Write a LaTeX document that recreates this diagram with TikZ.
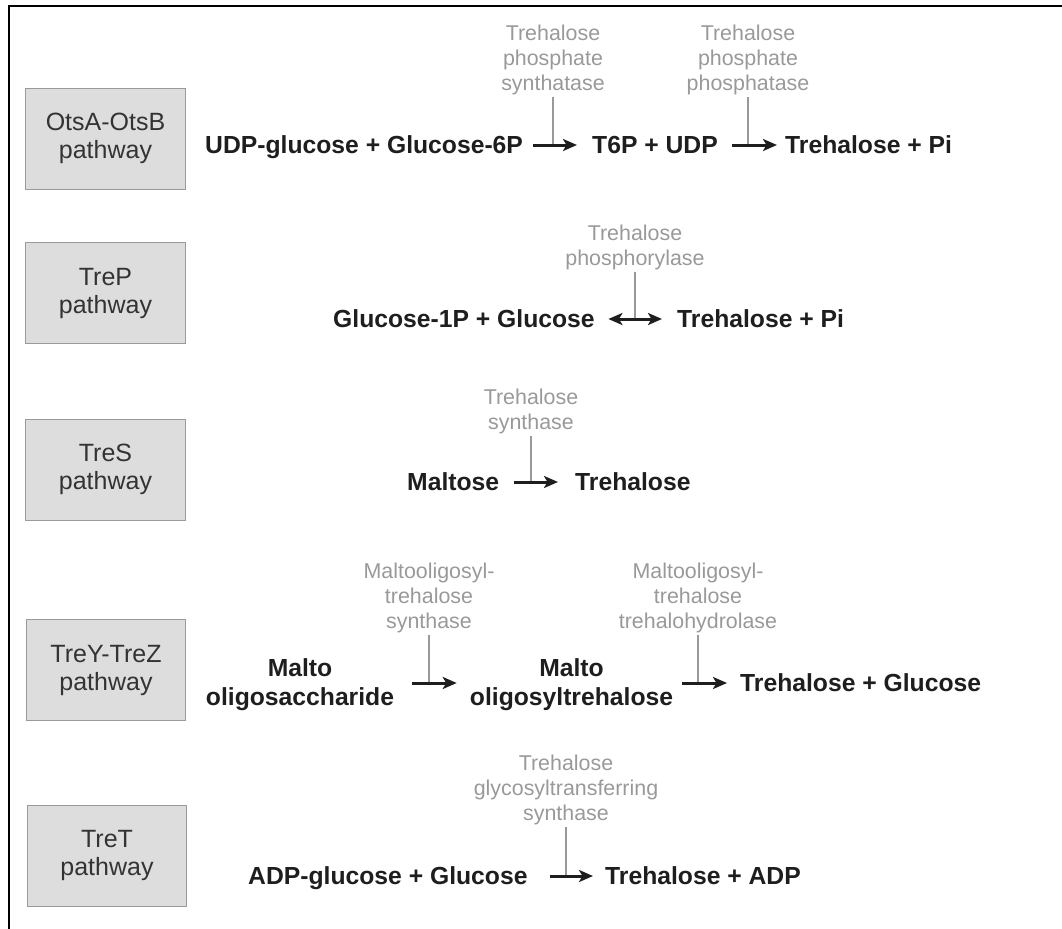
\documentclass[tikz,border=0pt]{standalone}
\usepackage{fontspec}
\setmainfont{Liberation Sans}
\usetikzlibrary{arrows.meta}
\definecolor{boxfill}{HTML}{DDDDDD}
\definecolor{boxline}{HTML}{9A9A9A}
\definecolor{enzgray}{HTML}{999999}
\definecolor{ink}{HTML}{1E1E1E}
\definecolor{boxtext}{HTML}{333333}
\begin{document}
\begin{tikzpicture}[x=1bp,y=-1bp,
  pathbox/.style={draw=boxline, fill=boxfill, line width=1bp, minimum width=159bp, minimum height=101bp, inner sep=0pt, align=center, text=boxtext, font=\fontsize{25bp}{28bp}\selectfont},
  chem/.style={inner sep=0pt, text=ink, font=\fontsize{24.7bp}{29bp}\selectfont\bfseries, text height=17.7bp, text depth=0bp},
  chemtwo/.style={inner sep=0pt, text=ink, align=center, font=\fontsize{24.7bp}{29bp}\selectfont\bfseries},
  enz/.style={inner sep=0pt, inner ysep=1.5bp, anchor=south, text=enzgray, align=center, font=\fontsize{21.4bp}{25.3bp}\selectfont},
  rx/.style={draw=ink, line width=3bp, -{Stealth[length=14bp,width=12bp,inset=3.5bp]}},
  rxx/.style={draw=ink, line width=3bp, {Stealth[length=14bp,width=12bp,inset=3.5bp]}-{Stealth[length=14bp,width=12bp,inset=3.5bp]}},
  enzline/.style={draw=enzgray, line width=1.3bp},
  framestyle/.style={draw=black, line width=2.2bp}
]
\useasboundingbox (0,0) rectangle (1062,929);
\draw[framestyle] (1062,6) -- (9.3,6) -- (9.3,929);

% pathway boxes
\node[pathbox] (p1) at (105.5,138.5) {OtsA-OtsB\\pathway};
\node[pathbox] (p2) at (105.5,293) {TreP\\pathway};
\node[pathbox] (p3) at (105.5,469.5) {TreS\\pathway};
\node[pathbox] (p4) at (106,670) {TreY-TreZ\\pathway};
\node[pathbox] (p5) at (107,855.5) {TreT\\pathway};

% row 1
\node[chem, anchor=west] (r1a) at (205,145) {UDP-glucose + Glucose-6P};
\node[chem, anchor=west] (r1b) at (592,145) {T6P + UDP};
\node[chem, anchor=west] (r1c) at (785,145) {Trehalose + Pi};
\node[enz] (e1a) at (553,97) {Trehalose\\phosphate\\synthatase};
\node[enz] (e1b) at (748,97) {Trehalose\\phosphate\\phosphatase};
\draw[enzline] (e1a.south) -- (e1a.south |- r1a.east);
\draw[enzline] (e1b.south) -- (e1b.south |- r1a.east);
\draw[rx, shorten <=10bp, shorten >=15bp] (r1a.east) -- (r1b.west);
\draw[rx, shorten <=14bp, shorten >=8bp] (r1b.east) -- (r1c.west);

% row 2
\node[chem, anchor=west] (r2a) at (333,319) {Glucose-1P + Glucose};
\node[chem, anchor=west] (r2b) at (677,319) {Trehalose + Pi};
\node[enz] (e2) at (635,272) {Trehalose\\phosphorylase};
\draw[enzline] (e2.south) -- (e2.south |- r2a.east);
\draw[rxx, shorten <=13.5bp, shorten >=15bp] (r2a.east) -- (r2b.west);

% row 3
\node[chem, anchor=west] (r3a) at (407,482) {Maltose};
\node[chem, anchor=west] (r3b) at (575,482) {Trehalose};
\node[enz] (e3) at (531,436) {Trehalose\\synthase};
\draw[enzline] (e3.south) -- (e3.south |- r3a.east);
\draw[rx, shorten <=15bp, shorten >=17bp] (r3a.east) -- (r3b.west);

% row 4
\coordinate (row4) at (0,683);
\node[chemtwo] (r4a) at (300,684.5) {Malto\\oligosaccharide};
\node[chemtwo] (r4b) at (571.5,684.5) {Malto\\oligosyltrehalose};
\node[chem, anchor=west] (r4c) at (740,683) {Trehalose + Glucose};
\node[enz] (e4a) at (429,635) {Maltooligosyl-\\trehalose\\synthase};
\node[enz] (e4b) at (698,635) {Maltooligosyl-\\trehalose\\trehalohydrolase};
\draw[enzline] (e4a.south) -- (e4a.south |- row4);
\draw[enzline] (e4b.south) -- (e4b.south |- row4);
\draw[rx, shorten <=18bp, shorten >=13bp] (r4a.east |- row4) -- (r4b.west |- row4);
\draw[rx, shorten <=9bp, shorten >=13bp] (r4b.east |- row4) -- (r4c.west);

% row 5
\node[chem, anchor=west] (r5a) at (248,876) {ADP-glucose + Glucose};
\node[chem, anchor=west] (r5b) at (605,876) {Trehalose + ADP};
\node[enz] (e5) at (566,827) {Trehalose\\glycosyltransferring\\synthase};
\draw[enzline] (e5.south) -- (e5.south |- r5a.east);
\draw[rx, shorten <=22bp, shorten >=12bp] (r5a.east) -- (r5b.west);
\end{tikzpicture}
\end{document}
